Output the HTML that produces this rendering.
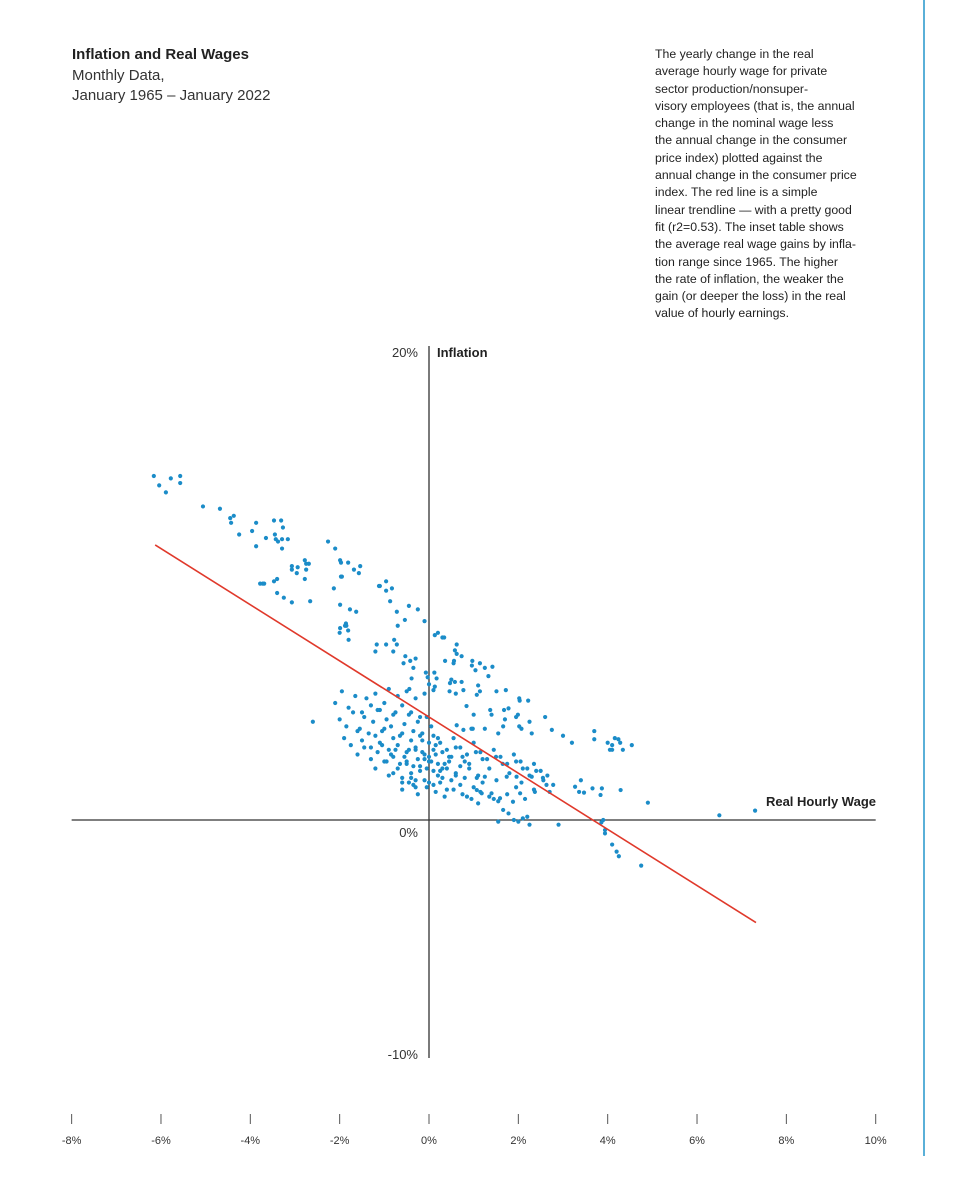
<!DOCTYPE html>
<html><head><meta charset="utf-8">
<style>
html,body{margin:0;padding:0;background:#fff;}
body{width:976px;height:1200px;position:relative;overflow:hidden;font-family:"Liberation Sans",sans-serif;color:#222;}
.t{position:absolute;white-space:nowrap;}
#desc{position:absolute;left:655px;top:46px;width:240px;font-size:12.3px;line-height:17.3px;color:#222;}
</style></head><body>
<div class="t" style="left:72px;top:46px;font-size:15px;font-weight:bold;">Inflation and Real Wages</div>
<div class="t" style="left:72px;top:66px;font-size:15px;line-height:20px;color:#333;">Monthly Data,<br>January 1965 – January 2022</div>
<div id="desc">The yearly change in the real<br>average hourly wage for private<br>sector production/nonsuper-<br>visory employees (that is, the annual<br>change in the nominal wage less<br>the annual change in the consumer<br>price index) plotted against the<br>annual change in the consumer price<br>index. The red line is a simple<br>linear trendline — with a pretty good<br>fit (r2=0.53). The inset table shows<br>the average real wage gains by infla-<br>tion range since 1965. The higher<br>the rate of inflation, the weaker the<br>gain (or deeper the loss) in the real<br>value of hourly earnings.</div>
<div style="position:absolute;left:923px;top:0;width:2px;height:1156px;background:#5ab0d8;"></div>
<svg id="chart" width="976" height="1200" style="position:absolute;left:0;top:0;" xmlns="http://www.w3.org/2000/svg"></svg>
<script>
const xTicks=[-8,-6,-4,-2,0,2,4,6,8,10];
const xTickLabels=["-8%","-6%","-4%","-2%","0%","2%","4%","6%","8%","10%"];
const yTickValues=[20,0,-10];
const yTickLabels=["20%","0%","-10%"];
const trendX=[-6.13,7.32];
const trendSlope=-1.2;
const trendIntercept=4.4;
const wageX=[
-6.16,-6.04,-5.89,-5.78,-5.57,-5.57,-5.06,-4.68,-4.45,-4.37,-4.43,-4.25,-3.96,-3.87,-3.65,-3.47,-3.31,-3.27,-3.45,-3.43,-3.38,-3.29,-3.16,-3.29,-3.87,-3.72,-3.4,-3.69,-3.4,-3.07,-2.94,-2.78,-2.75,-2.69,-2.75,-2.78,-3.07,-2.96,-3.78,-3.47,-3.25,-3.07,-2.66,-2.26,-2.1,-1.99,-1.97,-1.81,-1.97,-1.68,-1.54,-2.13,-1.95,-1.57,-1.99,-1.86,-1.88,-1.81,-1.99,-1.77,-1.63,-1.12,-0.96,-0.83,-0.87,-0.72,-1.1,-0.96,-0.45,-0.25,-0.54,
-2.0,-1.85,-1.8,-0.7,0.13,0.3,-0.1,-1.17,-0.96,-0.72,-1.2,-0.8,-0.78,-0.53,-0.42,-0.3,-0.57,-0.35,-0.39,-0.44,-0.07,-0.03,0.12,0.17,0.13,0.1,0.62,0.58,0.62,0.56,0.73,0.36,0.55,0.97,1.14,1.42,0.96,1.04,1.25,1.33,0.5,0.47,0.58,0.73,0.77,0.46,0.6,1.1,1.14,1.07,1.51,1.72,0.84,1.0,1.37,1.4,1.68,1.78,2.02,2.22,2.03,1.99,1.95,1.7,2.25,2.6,1.66,2.02,2.07,1.25,0.98,0.62,0.77,2.75,2.3,3.0,3.2,3.7,3.7,4.16,4.24,4.28,4.0,4.1,4.05,4.1,4.34,4.54,3.27,3.4,3.36,3.47,3.66,3.87,3.84,4.29,4.9,1.07,1.25,1.51,1.74,1.96,2.07,2.3,2.56,2.63,2.78,2.7,2.37,2.04,1.07,1.18,1.4,1.59,1.1,1.88,1.66,1.78,1.9,2.0,2.1,2.2,2.25,1.55,2.9,3.9,3.86,3.94,3.94,6.5,7.3,4.1,4.2,4.25,4.75,-2.6,0.2,0.34,
-2.1,-1.95,-1.8,-1.65,-1.5,-1.4,-1.3,-1.2,-1.1,-1.0,-0.9,-0.8,-0.7,-0.6,-0.5,-0.4,-0.3,-0.2,-0.1,0.0,
-2.0,-1.85,-1.7,-1.55,-1.45,-1.35,-1.25,-1.15,-1.05,-0.95,-0.85,-0.75,-0.65,-0.55,-0.45,-0.35,-0.25,-0.15,-0.05,0.05,
-1.9,-1.75,-1.6,-1.5,-1.3,-1.2,-1.1,-1.0,-0.9,-0.8,-0.7,-0.6,-0.5,-0.4,-0.3,-0.2,-0.1,0.0,0.1,0.2,
-1.6,-1.45,-1.3,-1.15,-1.05,-0.95,-0.85,-0.75,-0.65,-0.55,-0.45,-0.35,-0.25,-0.15,-0.05,0.05,0.15,0.25,0.35,0.45,
-1.2,-1.0,-0.9,-0.8,-0.7,-0.6,-0.5,-0.4,-0.3,-0.2,-0.1,0.0,0.1,0.2,0.3,0.4,0.5,0.6,0.7,0.8,
-0.8,-0.6,-0.5,-0.4,-0.3,-0.2,-0.1,0.0,0.1,0.2,0.3,0.4,0.5,0.6,0.7,0.8,0.9,1.0,1.1,1.2,
-0.3,-0.15,0.0,0.15,0.3,0.45,0.6,0.75,0.9,1.05,1.2,1.35,1.5,1.65,1.8,1.95,2.1,2.25,2.4,2.55,
0.1,0.25,0.4,0.55,0.7,0.85,1.0,1.15,1.3,1.45,1.6,1.75,1.9,2.05,2.2,2.35,2.5,2.65,0.95,1.55,
-0.6,-0.45,-0.25,-0.05,0.15,0.35,0.55,0.75,0.95,1.15,1.35,1.55,1.75,1.95,2.15,2.35,-0.35,0.25,0.85,1.45
];
const inflationY=[
14.7,14.3,14.0,14.6,14.7,14.4,13.4,13.3,12.9,13.0,12.7,12.2,12.35,12.7,12.05,12.8,12.8,12.5,12.2,12.0,11.9,12.0,12.0,11.6,11.7,10.1,10.3,10.1,9.7,10.85,10.8,11.1,10.95,10.95,10.7,10.3,10.7,10.55,10.1,10.2,9.5,9.3,9.35,11.9,11.6,11.1,11.0,11.0,10.4,10.7,10.85,9.9,10.4,10.55,9.2,8.4,8.3,8.1,8.2,9.0,8.9,10.0,10.2,9.9,9.35,8.9,10.0,9.8,9.15,9.0,8.55,
8.0,8.3,7.7,8.3,7.9,7.8,8.5,7.5,7.5,7.5,7.2,7.2,7.7,7.0,6.8,6.9,6.7,6.5,6.05,5.6,6.3,6.1,6.3,6.05,5.7,5.55,7.5,7.25,7.1,6.8,7.0,6.8,6.7,6.8,6.7,6.55,6.6,6.4,6.5,6.15,6.0,5.85,5.9,5.9,5.55,5.5,5.4,5.75,5.5,5.35,5.5,5.55,4.87,4.5,4.7,4.5,4.7,4.77,5.2,5.1,5.1,4.5,4.4,4.3,4.2,4.4,4.0,4.0,3.9,3.9,3.9,4.05,3.85,3.85,3.7,3.6,3.3,3.8,3.45,3.5,3.45,3.3,3.3,3.2,3.0,3.0,3.0,3.2,1.42,1.7,1.2,1.17,1.35,1.35,1.07,1.28,0.74,1.8,1.85,1.7,1.85,1.85,1.6,1.85,1.7,1.5,1.5,1.2,1.2,1.14,1.28,1.14,1.14,0.93,0.71,0.78,0.43,0.28,0.0,-0.07,0.07,0.14,-0.2,-0.07,-0.2,0.0,-0.1,-0.43,-0.57,0.2,0.4,-1.05,-1.35,-1.55,-1.95,4.2,8.0,7.8,
5.0,5.5,4.8,5.3,4.6,5.2,4.9,5.4,4.7,5.0,5.6,4.5,5.3,4.9,5.5,4.6,5.2,4.4,5.4,5.8,
4.3,4.0,4.6,3.9,4.4,3.7,4.2,4.7,3.8,4.3,4.0,4.6,3.6,4.1,4.5,3.8,4.2,3.7,4.4,4.0,
3.5,3.2,3.8,3.4,3.1,3.6,3.3,3.9,3.0,3.5,3.2,3.7,2.9,3.4,3.1,3.6,2.8,3.3,3.0,3.5,
2.8,3.1,2.6,2.9,3.2,2.5,2.8,3.0,2.4,2.7,3.0,2.3,2.6,2.9,2.2,2.5,2.8,2.1,2.4,2.7,
2.2,2.5,1.9,2.7,2.2,1.8,2.5,2.0,1.7,2.3,2.6,1.6,2.1,2.4,1.8,2.2,2.7,1.9,2.3,2.5,
2.0,1.6,2.4,1.8,1.4,2.1,1.7,2.5,1.5,1.9,2.2,1.3,1.7,2.0,1.5,1.8,2.2,1.4,1.9,1.6,
3.0,3.4,2.7,3.2,2.9,2.5,3.1,2.7,2.4,2.9,2.6,2.2,2.7,2.4,2.0,2.5,2.2,1.9,2.1,1.8,
3.6,3.3,3.0,3.5,3.1,2.8,3.3,2.9,2.6,3.0,2.7,2.4,2.8,2.5,2.2,2.4,2.1,1.9,3.9,3.7,
1.3,1.6,1.1,1.4,1.2,1.0,1.3,1.1,0.9,1.2,1.0,0.8,1.1,1.4,0.9,1.3,1.5,1.6,1.0,0.9
];
const svg=document.getElementById('chart');
const NS='http://www.w3.org/2000/svg';
const x0=429,xPer=44.67,y0=820,yPer=23.4;
function sx(v){return x0+v*xPer;}
function sy(v){return y0-v*yPer;}
function mk(tag,attrs){const e=document.createElementNS(NS,tag);for(const k in attrs)e.setAttribute(k,attrs[k]);svg.appendChild(e);return e;}
let a=mk('line',{x1:sx(-8),x2:sx(10),y1:sy(0),y2:sy(0),stroke:'#333','stroke-width':1.3});


a=mk('line',{x1:x0,x2:x0,y1:346,y2:1058,stroke:'#333','stroke-width':1.3});


yTickValues.forEach((v,i)=>{
 let yy=v===0?sy(v)+17:sy(v)+5;
 const t=mk('text',{x:418,y:yy,'text-anchor':'end','font-size':13,fill:'#333','font-family':'Liberation Sans, sans-serif'});
 t.textContent=yTickLabels[i];
 
 
});
let t=mk('text',{x:437,y:357,'font-size':13,'font-weight':'bold',fill:'#222','font-family':'Liberation Sans, sans-serif'});
t.textContent='Inflation';


t=mk('text',{x:876,y:806,'text-anchor':'end','font-size':13,'font-weight':'bold',fill:'#222','font-family':'Liberation Sans, sans-serif'});
t.textContent='Real Hourly Wage';


xTicks.forEach((v,i)=>{
 const l=mk('line',{x1:sx(v),x2:sx(v),y1:1114,y2:1124,stroke:'#555','stroke-width':1});
 
 
 const tx=mk('text',{x:sx(v),y:1144,'text-anchor':'middle','font-size':11,fill:'#333','font-family':'Liberation Sans, sans-serif'});
 tx.textContent=xTickLabels[i];
 
 
});
wageX.forEach((v,i)=>{
 const c=mk('circle',{cx:sx(v),cy:sy(inflationY[i]),r:2.1,fill:'#1b8cc8'});
 
 
});
const tl=mk('line',{x1:sx(trendX[0]),y1:sy(trendIntercept+trendSlope*trendX[0]),x2:sx(trendX[1]),y2:sy(trendIntercept+trendSlope*trendX[1]),stroke:'#e0392b','stroke-width':1.6});


</script>
</body></html>
